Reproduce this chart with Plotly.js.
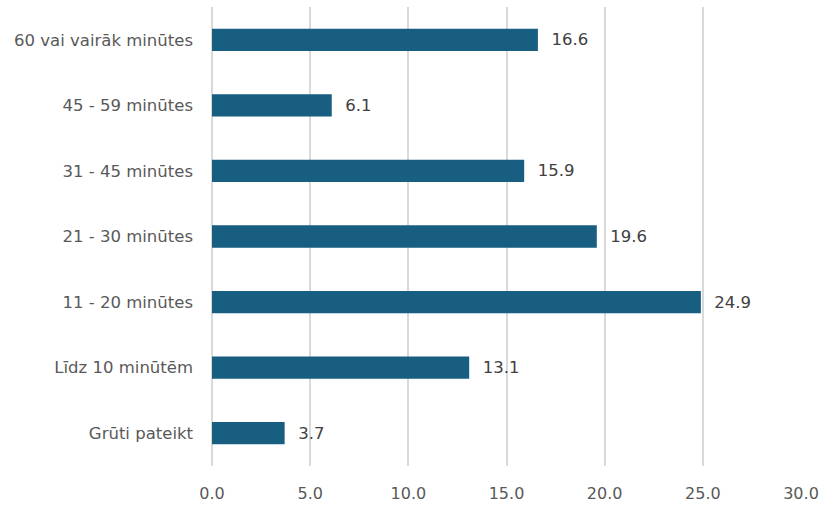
<!DOCTYPE html>
<html>
<head>
<meta charset="utf-8">
<script src="https://cdn.plot.ly/plotly-3.0.1.min.js"></script>
<style>html,body{margin:0;padding:0;background:#fff}#chart{width:821px;height:506px}</style>
</head>
<body>
<div id="chart"></div>
<script>
const categories = ["Grūti pateikt", "Līdz 10 minūtēm", "11 - 20 minūtes", "21 - 30 minūtes", "31 - 45 minūtes", "45 - 59 minūtes", "60 vai vairāk minūtes"];
const values = [3.7, 13.1, 24.9, 19.6, 15.9, 6.1, 16.6];
const xTicks = [0, 5, 10, 15, 20, 25, 30];
const xTickLabels = ["0.0", "5.0", "10.0", "15.0", "20.0", "25.0", "30.0"];

const font = "'DejaVu Sans', 'Noto Sans', sans-serif";

Plotly.newPlot('chart', [{
  type: 'bar',
  orientation: 'h',
  x: values,
  y: categories,
  marker: {color: '#175e80'},
  width: 0.34,
  text: values.map(v => '  ' + v.toFixed(1)),
  textposition: 'outside',
  textfont: {family: font, size: 16.5, color: '#404040'},
  cliponaxis: false,
  hoverinfo: 'none'
}], {
  width: 821, height: 506,
  margin: {l: 212, r: 20, t: 7, b: 40},
  paper_bgcolor: '#fff', plot_bgcolor: '#fff',
  showlegend: false,
  xaxis: {
    range: [0, 30],
    tickvals: xTicks, ticktext: xTickLabels,
    showgrid: true, gridcolor: '#d9d9d9', gridwidth: 2,
    zeroline: true, zerolinecolor: '#d9d9d9', zerolinewidth: 2,
    showline: false, ticks: '',
    ticklabelstandoff: 16,
    tickfont: {family: font, size: 16, color: '#595959'},
    fixedrange: true
  },
  yaxis: {
    categoryorder: 'array', categoryarray: categories,
    showgrid: false, zeroline: false, showline: false, ticks: '',
    ticklabelstandoff: 18,
    tickfont: {family: font, size: 16.5, color: '#595959'},
    fixedrange: true
  }
}, {displayModeBar: false, staticPlot: true});
</script>
</body>
</html>
